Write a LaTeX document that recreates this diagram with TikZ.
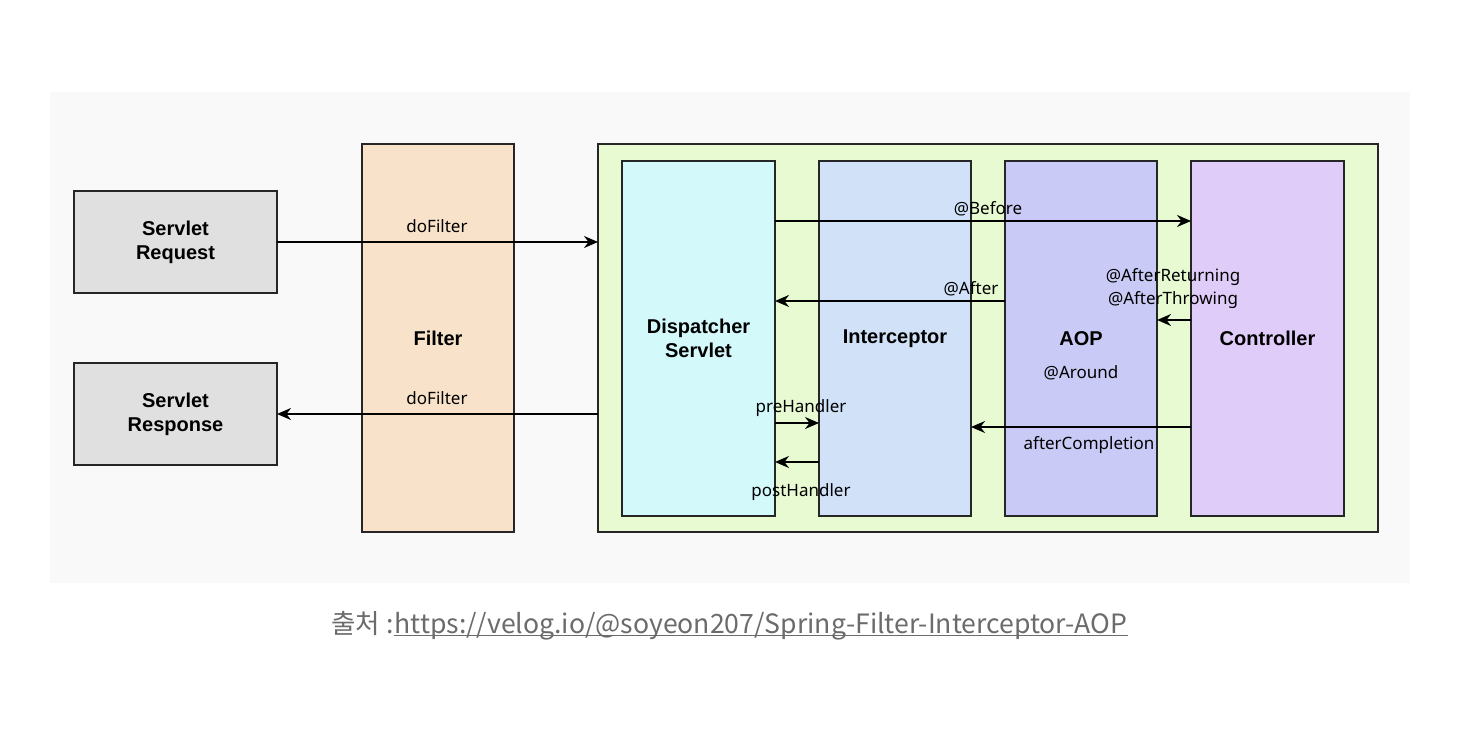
\documentclass[tikz,border=0pt]{standalone}
\usepackage{fontspec}
\setmainfont{Liberation Sans}
\newfontfamily\handfont{Noto Sans}
\newfontfamily\krfont{Noto Sans CJK KR}
\usetikzlibrary{arrows.meta,positioning}

\definecolor{panelgray}{HTML}{F9F9F9}
\definecolor{boxgray}{HTML}{E0E0E0}
\definecolor{filterpeach}{HTML}{F8E3CA}
\definecolor{springgreen}{HTML}{E7FAD1}
\definecolor{dispcyan}{HTML}{D3F9FB}
\definecolor{interblue}{HTML}{D0E1F8}
\definecolor{aopviolet}{HTML}{CACAF6}
\definecolor{ctrlpurple}{HTML}{E0CCF8}
\definecolor{captiongray}{HTML}{6B6B6B}

\tikzset{
  box/.style={draw=black!85, line width=1pt, inner sep=0pt, outer sep=0pt,
    align=center, font=\bfseries\fontsize{10}{12}\selectfont},
  arr/.style={-{Stealth[length=7pt,width=6pt]}, line width=0.9pt},
  lbl/.style={font=\handfont\fontsize{8.5}{10}\selectfont, inner sep=0pt},
  captext/.style={font=\krfont\fontsize{13.3}{15}\selectfont, text=captiongray, inner sep=0pt}
}

\begin{document}
\begin{tikzpicture}[x=0.5pt,y=-0.5pt]
\useasboundingbox (0,0) rectangle (1476,742);

% Panel behind the diagram
\fill[panelgray] (50,92) rectangle (1410,583);

% Servlet boxes
\node[box, fill=boxgray, minimum width=101.5pt, minimum height=51pt] (req) at (175.5,242) {Servlet\\Request};
\node[box, fill=boxgray, minimum width=101.5pt, minimum height=51pt] (resp) at (175.5,414) {Servlet\\Response};

% Filter
\node[box, fill=filterpeach, minimum width=76pt, minimum height=194pt] (filter) at (438,338) {Filter};

% Spring container and its parts
\node[box, fill=springgreen, minimum width=390pt, minimum height=194pt] (spring) at (988,338) {};
\node[box, fill=dispcyan, minimum width=76.5pt, minimum height=177.5pt] (disp) at (698.5,338.5) {Dispatcher\\Servlet};
\node[box, fill=interblue, minimum width=76pt, minimum height=177.5pt] (inter) at (895,338.5) {Interceptor};
\node[box, fill=aopviolet, minimum width=76pt, minimum height=177.5pt] (aop) at (1081,338.5) {AOP};
\node[box, fill=ctrlpurple, minimum width=76.5pt, minimum height=177.5pt] (ctrl) at (1267.5,338.5) {Controller};

% Filter arrows
\draw[arr] (req.east) -- (spring.west |- req.east);
\draw[arr] (spring.west |- resp.east) -- (resp.east);

% Arrows inside the container
\draw[arr] (disp.east |- 0,221) -- (ctrl.west |- 0,221);
\draw[arr] (aop.west |- 0,301) -- (disp.east |- 0,301);
\draw[arr] (ctrl.west |- 0,320) -- (aop.east |- 0,320);
\draw[arr] (ctrl.west |- 0,427) -- (inter.east |- 0,427);
\draw[arr] (disp.east |- 0,423) -- (inter.west |- 0,423);
\draw[arr] (inter.west |- 0,462) -- (disp.east |- 0,462);

% Labels
\node[lbl] (lblreq) at (437,226) {doFilter};
\node[lbl] (lblresp) at (437,398) {doFilter};
\node[lbl] (lblbefore) at (988,209) {@Before};
\node[lbl] (lblafter) at (971,289) {@After};
\node[lbl] (lblret) at (1173,277) {@AfterReturning};
\node[lbl] (lblthrow) at (1173,300) {@AfterThrowing};
\node[lbl] (lblaround) at (1081,373) {@Around};
\node[lbl] (lblcompl) at (1089,445) {afterCompletion};
\node[lbl] (lblpre) at (801,408) {preHandler};
\node[lbl] (lblpost) at (801,492) {postHandler};

% Caption
\node[captext, anchor=base west] (capsrc) at (331,633) {출처 :};
\node[captext, anchor=base west] (capurl) at (capsrc.base east) {https://velog.io/@soyeon207/Spring-Filter-Interceptor-AOP};
\draw[captiongray, line width=0.7pt] ([yshift=-1.3pt]capurl.base west) -- ([yshift=-1.3pt]capurl.base east);
\end{tikzpicture}
\end{document}
